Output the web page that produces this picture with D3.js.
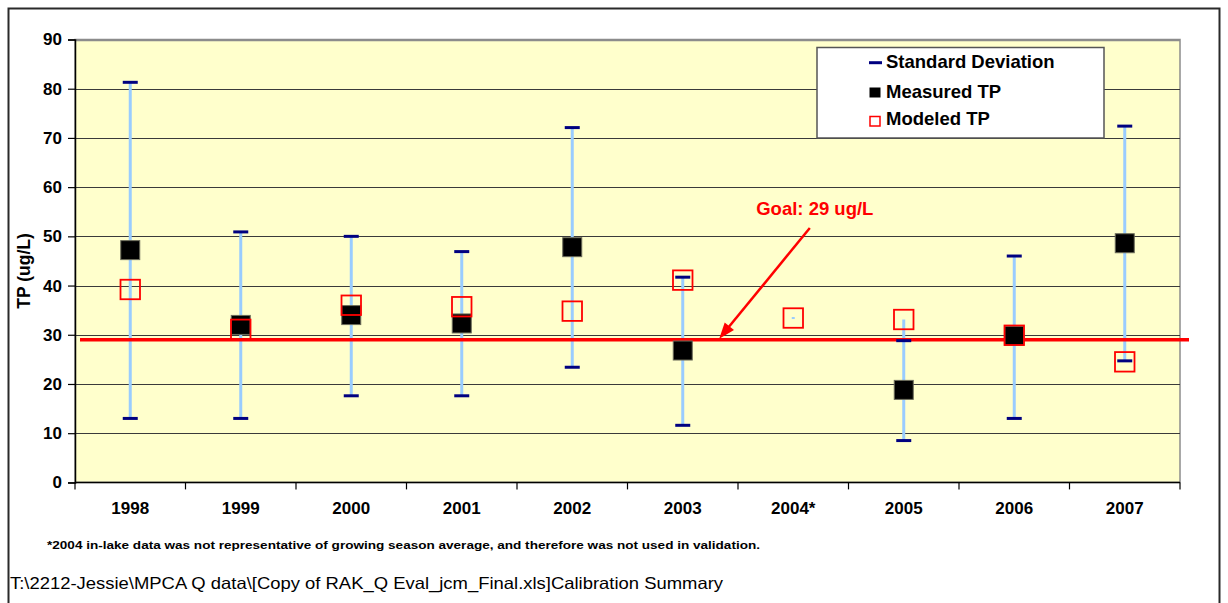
<!DOCTYPE html>
<html>
<head>
<meta charset="utf-8">
<script src="https://cdn.jsdelivr.net/npm/d3@7"></script>
<style>
  html, body { margin: 0; padding: 0; background: #ffffff; }
  svg { display: block; font-family: "Liberation Sans", Arial, sans-serif; }
</style>
</head>
<body>
<svg id="chart" width="1228" height="603"></svg>
<script>
// Annual in-lake total phosphorus: measured mean, standard deviation range, modeled value
const years    = ["1998", "1999", "2000", "2001", "2002", "2003", "2004*", "2005", "2006", "2007"];
const measured = [47.2, 32.0, 34.0, 32.3, 47.8, 26.8, null, 18.8, 29.8, 48.6];
const modeled  = [39.2, 31.1, 36.0, 35.7, 34.8, 41.1, 33.4, 33.1, 29.9, 24.5];
const sdUpper  = [81.3, 50.9, 50.0, 46.9, 72.1, 41.7, null, 28.8, 46.0, 72.4];
const sdLower  = [13.0, 13.0, 17.6, 17.6, 23.4, 11.6, null,  8.5, 13.0, 24.7];
const yTicks   = [0, 10, 20, 30, 40, 50, 60, 70, 80, 90];
const goalTP   = 29;
const goalLabel = "Goal: 29 ug/L";
const legendItems = ["Standard Deviation", "Measured TP", "Modeled TP"];
const yTitle = "TP (ug/L)";
const footnote = "*2004 in-lake data was not representative of growing season average, and therefore was not used in validation.";
const sourceLine = "T:\\2212-Jessie\\MPCA Q data\\[Copy of RAK_Q Eval_jcm_Final.xls]Calibration Summary";

const svg = d3.select("#chart");
const plot = { left: 75, right: 1180, top: 39.5, bottom: 482.4 };

const x = d3.scaleBand().domain(years).range([plot.left, plot.right]).paddingInner(0).paddingOuter(0);
const y = d3.scaleLinear().domain([0, 90]).range([plot.bottom, plot.top]);
const cx = d => x(d) + x.bandwidth() / 2;

// outer frame
svg.append("rect")
  .attr("x", 8.5).attr("y", 8.5).attr("width", 1211).attr("height", 640)
  .attr("fill", "#ffffff").attr("stroke", "#2a2a2a").attr("stroke-width", 2);

// plot background
svg.append("rect")
  .attr("x", plot.left).attr("y", plot.top)
  .attr("width", plot.right - plot.left).attr("height", plot.bottom - plot.top)
  .attr("fill", "#FFFFCC").attr("stroke", "#8c8c8c").attr("stroke-width", 1.5);

// horizontal gridlines
svg.append("g").selectAll("line").data(yTicks.filter(t => t > 0)).join("line")
  .attr("x1", plot.left).attr("x2", plot.right)
  .attr("y1", d => Math.round(y(d)) + 0.5).attr("y2", d => Math.round(y(d)) + 0.5)
  .attr("stroke", d => d === 90 ? "#8c8c8c" : "#3a3a3a").attr("stroke-width", d => d === 90 ? 1.5 : 1.2);

// y axis
const yAxis = svg.append("g").attr("transform", `translate(${plot.left},0)`)
  .call(d3.axisLeft(y).tickValues(yTicks).tickSize(7).tickPadding(6));
yAxis.select(".domain").attr("stroke", "#000").attr("stroke-width", 1.5);
yAxis.selectAll(".tick line").attr("stroke", "#000").attr("stroke-width", 1.2);
yAxis.selectAll(".tick text")
  .attr("font-family", "Liberation Sans, Arial, sans-serif")
  .attr("font-size", 17).attr("font-weight", "bold").attr("fill", "#000");

// x axis: category boundaries carry the ticks
const xAxisG = svg.append("g").attr("transform", `translate(0,${plot.bottom})`);
xAxisG.append("line").attr("x1", plot.left).attr("x2", plot.right)
  .attr("stroke", "#000").attr("stroke-width", 1.5);
const bounds = years.map(d => x(d)).concat([plot.right]);
xAxisG.selectAll("line.tick").data(bounds).join("line").attr("class", "tick")
  .attr("x1", d => d).attr("x2", d => d).attr("y1", 0).attr("y2", 7)
  .attr("stroke", "#000").attr("stroke-width", 1.2);
xAxisG.selectAll("text").data(years).join("text")
  .attr("x", d => cx(d)).attr("y", 32)
  .attr("text-anchor", "middle").attr("font-size", 17).attr("font-weight", "bold")
  .text(d => d);

// y axis title
svg.append("text")
  .attr("transform", `translate(30,${(plot.top + plot.bottom) / 2 + 10}) rotate(-90)`)
  .attr("text-anchor", "middle").attr("font-size", 17.5).attr("font-weight", "bold")
  .text(yTitle);

// per-year records
const rows = years.map((yr, i) => ({
  yr, m: measured[i], mod: modeled[i], hi: sdUpper[i], lo: sdLower[i]
}));

// high-low lines span every value plotted for the year
const hl = svg.append("g");
rows.forEach(r => {
  const vals = [r.m, r.mod, r.hi, r.lo].filter(v => v != null);
  const top = y(d3.max(vals)), bot = y(d3.min(vals));
  hl.append("line")
    .attr("x1", cx(r.yr)).attr("x2", cx(r.yr))
    .attr("y1", top - (bot - top < 2 ? 1 : 0)).attr("y2", bot + (bot - top < 2 ? 1 : 0))
    .attr("stroke", "#99CCFF").attr("stroke-width", 3);
});

// goal line
svg.append("line")
  .attr("x1", plot.left + 5).attr("x2", plot.right + 9)
  .attr("y1", y(goalTP)).attr("y2", y(goalTP))
  .attr("stroke", "#FF0000").attr("stroke-width", 3.5);

// measured TP squares
const ms = 19;
svg.append("g").selectAll("rect").data(rows.filter(r => r.m != null)).join("rect")
  .attr("x", r => cx(r.yr) - ms / 2).attr("y", r => y(r.m) - ms / 2)
  .attr("width", ms).attr("height", ms)
  .attr("fill", "#000").attr("stroke", "#6b6b5a").attr("stroke-width", 1);

// modeled TP squares (open)
const os = 19.5;
svg.append("g").selectAll("rect").data(rows).join("rect")
  .attr("x", r => cx(r.yr) - os / 2).attr("y", r => y(r.mod) - os / 2)
  .attr("width", os).attr("height", os)
  .attr("fill", "none").attr("stroke", "#FF0000").attr("stroke-width", 1.8);

// standard deviation caps
const capW = 15;
const caps = rows.flatMap(r => r.hi == null ? [] : [{ yr: r.yr, v: r.hi }, { yr: r.yr, v: r.lo }]);
svg.append("g").selectAll("line").data(caps).join("line")
  .attr("x1", d => cx(d.yr) - capW / 2).attr("x2", d => cx(d.yr) + capW / 2)
  .attr("y1", d => y(d.v)).attr("y2", d => y(d.v))
  .attr("stroke", "#000080").attr("stroke-width", 3);

// goal annotation with arrow
const tipX = x("2003") + x.bandwidth() * 0.83;
const tipY = y(goalTP) - 1;
const tailX = x("2003") + x.bandwidth() * 1.65, tailY = y(51.7);
const ang = Math.atan2(tipY - tailY, tipX - tailX);
const headL = 16, headW = 6;
svg.append("line")
  .attr("x1", tailX).attr("y1", tailY)
  .attr("x2", tipX - Math.cos(ang) * headL * 0.8).attr("y2", tipY - Math.sin(ang) * headL * 0.8)
  .attr("stroke", "#FF0000").attr("stroke-width", 2.5);
const bx = tipX - Math.cos(ang) * headL, by = tipY - Math.sin(ang) * headL;
svg.append("path")
  .attr("d", `M${tipX},${tipY} L${bx + Math.sin(ang) * headW},${by - Math.cos(ang) * headW} L${bx - Math.sin(ang) * headW},${by + Math.cos(ang) * headW} Z`)
  .attr("fill", "#FF0000");
svg.append("text")
  .attr("x", tailX + 5).attr("y", tailY - 13)
  .attr("text-anchor", "middle").attr("font-size", 18.5).attr("font-weight", "bold")
  .attr("fill", "#FF0000").text(goalLabel);

// legend
const lg = svg.append("g");
lg.append("rect").attr("x", 817).attr("y", 47.5).attr("width", 287).attr("height", 90.5)
  .attr("fill", "#ffffff").attr("stroke", "#555").attr("stroke-width", 1.5);
const lgY = [68.3, 97.7, 125.3];
lg.selectAll("text").data(legendItems).join("text")
  .attr("x", 886).attr("y", (d, i) => lgY[i])
  .attr("font-size", 18.5).attr("font-weight", "bold").text(d => d);
lg.append("line").attr("x1", 869).attr("x2", 882).attr("y1", 62.7).attr("y2", 62.7)
  .attr("stroke", "#000080").attr("stroke-width", 3);
lg.append("rect").attr("x", 869.5).attr("y", 87.5).attr("width", 11).attr("height", 10).attr("fill", "#000");
lg.append("rect").attr("x", 870).attr("y", 116.5).attr("width", 10).attr("height", 9.5)
  .attr("fill", "#fff").attr("stroke", "#FF0000").attr("stroke-width", 1.5);

// footnote and source path
svg.append("text").attr("x", 47).attr("y", 549)
  .attr("font-size", 10.5).attr("font-weight", "bold")
  .attr("textLength", 713).attr("lengthAdjust", "spacingAndGlyphs").text(footnote);
svg.append("text").attr("x", 10).attr("y", 589)
  .attr("font-size", 16.5)
  .attr("textLength", 713).attr("lengthAdjust", "spacingAndGlyphs").text(sourceLine);
</script>
</body>
</html>
